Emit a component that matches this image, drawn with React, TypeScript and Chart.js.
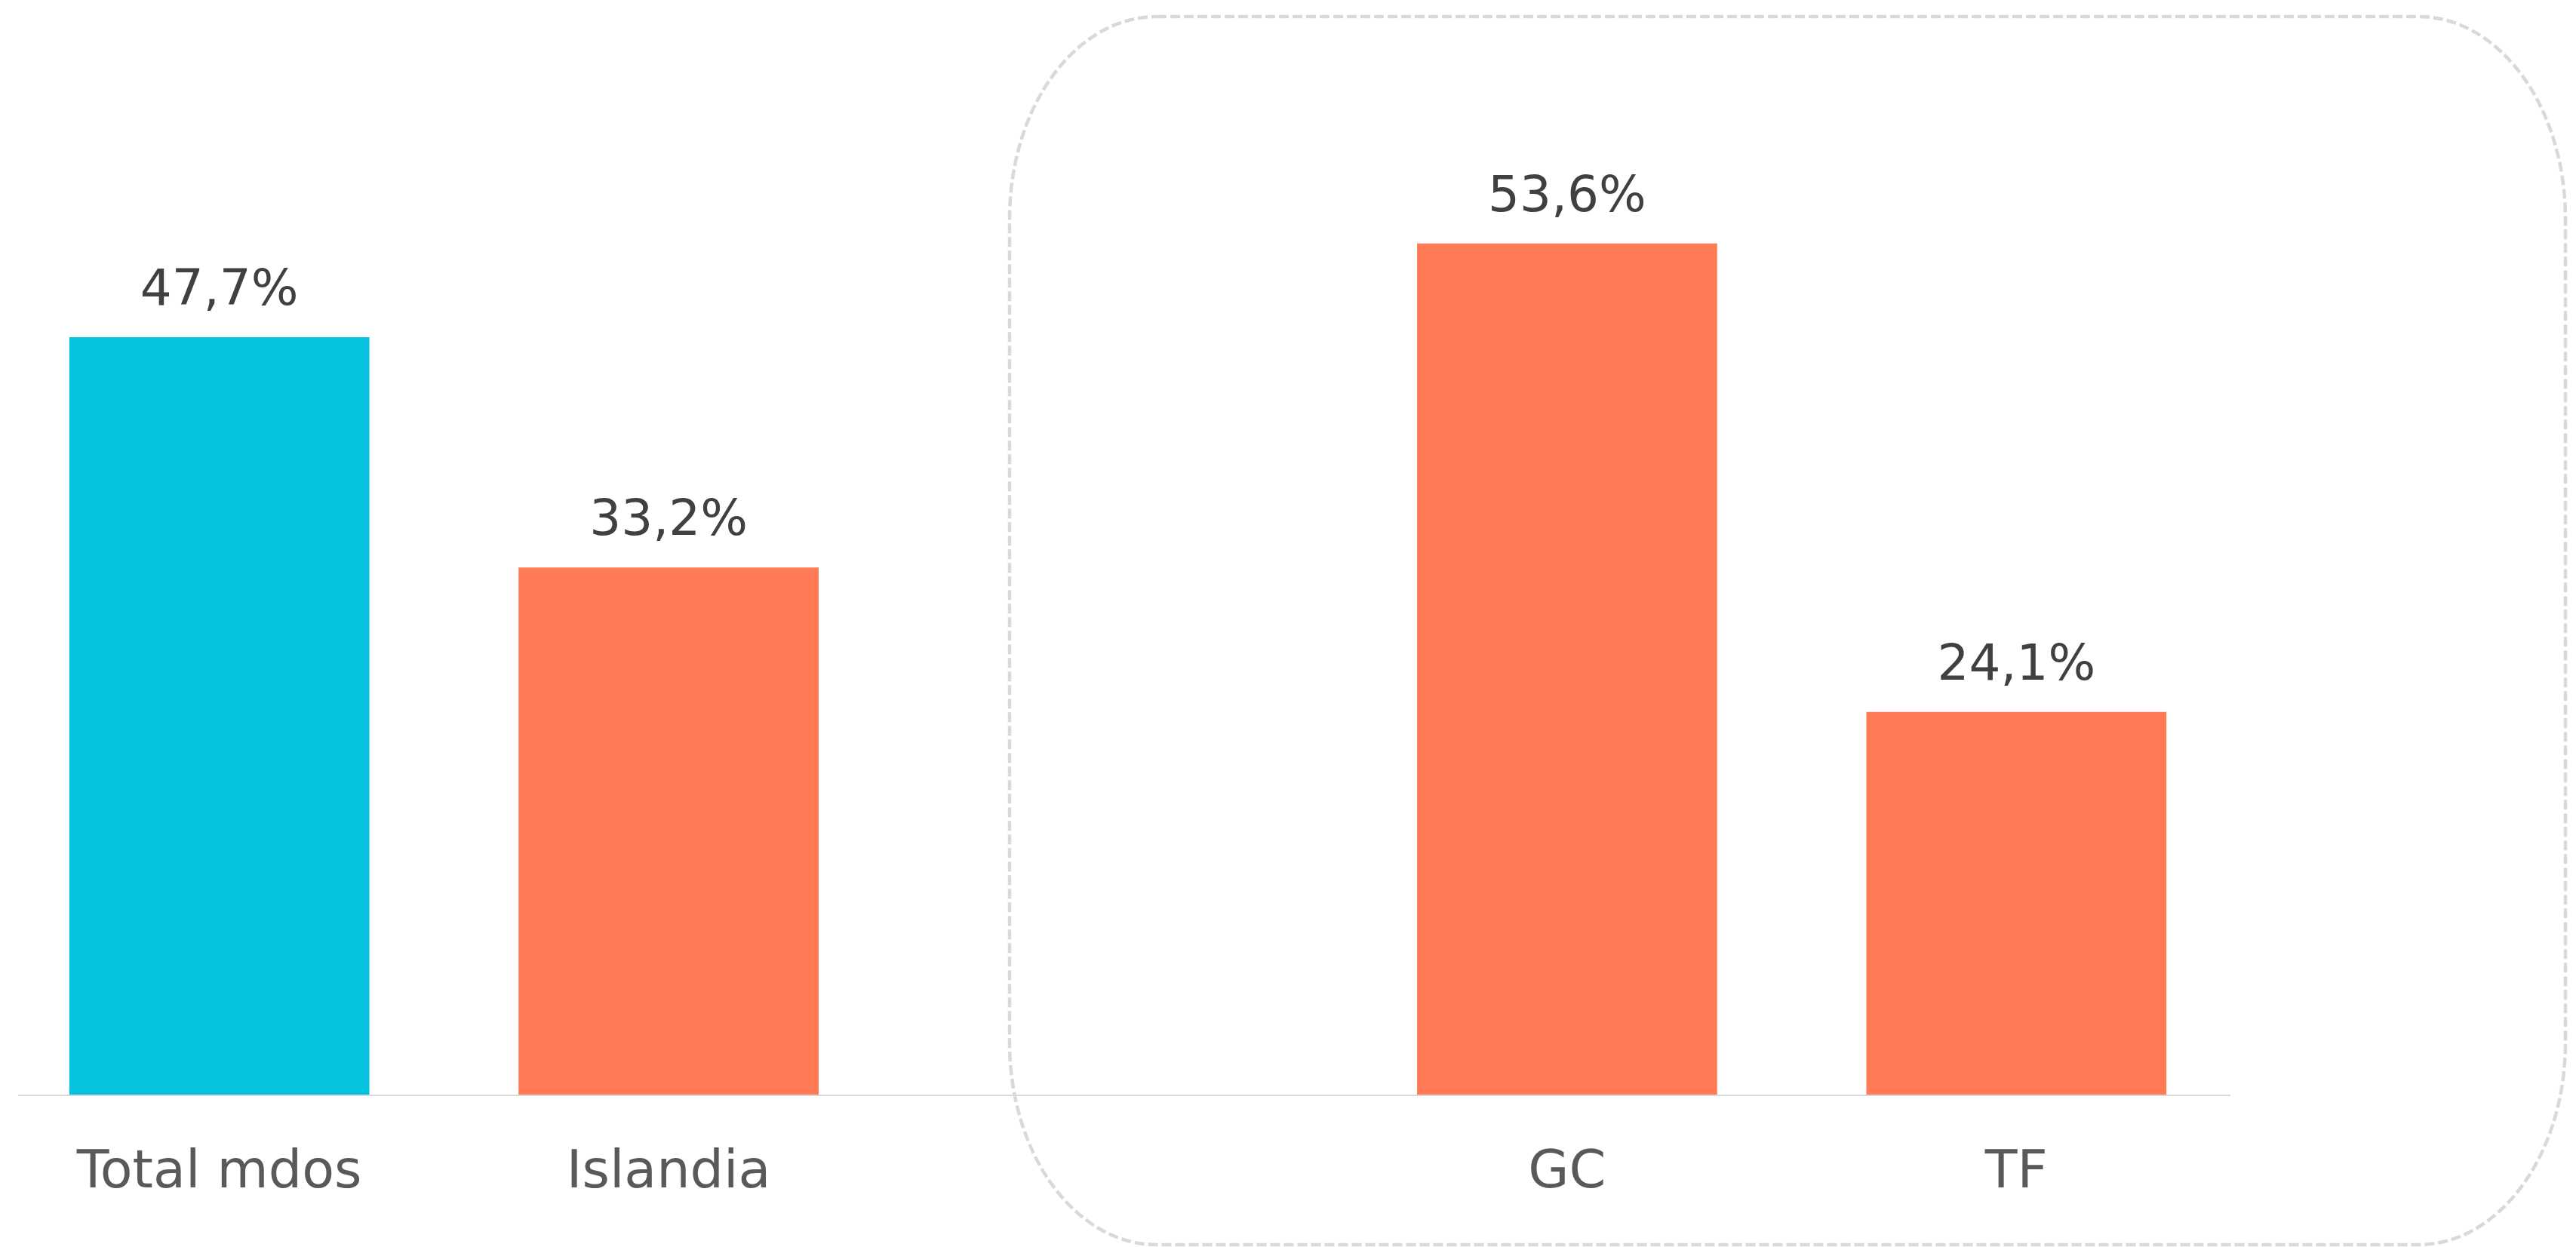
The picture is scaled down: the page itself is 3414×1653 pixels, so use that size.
import React, { useEffect, useRef } from "react";
import { Chart, registerables } from "chart.js";

Chart.register(...registerables);

const categories = ["Total mdos", "Islandia", "", "GC", "TF"];
const values = [47.7, 33.2, null, 53.6, 24.1];
const valueLabels = ["47,7%", "33,2%", "", "53,6%", "24,1%"];
const barColors = ["#06C3DD", "#FF7A55", "#FF7A55", "#FF7A55", "#FF7A55"];

const W = 3414;
const H = 1653;
const SHIFT = -7;

const valueLabelPlugin = {
  id: "valueLabels",
  afterDatasetsDraw(chart: any) {
    const ctx = chart.ctx;
    const meta = chart.getDatasetMeta(0);
    ctx.save();
    ctx.font = "66px 'DejaVu Sans'";
    ctx.fillStyle = "#404040";
    ctx.textAlign = "center";
    ctx.textBaseline = "alphabetic";
    meta.data.forEach((bar: any, i: number) => {
      if (values[i] == null) return;
      ctx.fillText(valueLabels[i], bar.x, bar.y - 43);
    });
    ctx.restore();
  },
};

const decorPlugin = {
  id: "decor",
  beforeDatasetsDraw(chart: any) {
    const ctx = chart.ctx;
    const a = chart.chartArea;
    ctx.save();
    ctx.strokeStyle = "#d9d9d9";
    ctx.lineWidth = 2;
    ctx.beginPath();
    ctx.moveTo(a.left + 31, a.bottom + 1);
    ctx.lineTo(a.right - 14, a.bottom + 1);
    ctx.stroke();
    ctx.restore();
  },
  afterDraw(chart: any) {
    const ctx = chart.ctx;
    const l = 1338 - SHIFT, t = 22, r = 3400 - SHIFT, b = 1650;
    const rx = 195, ry = 268;
    ctx.save();
    ctx.strokeStyle = "#d9d9d9";
    ctx.lineWidth = 4.5;
    ctx.setLineDash([13, 5]);
    ctx.beginPath();
    ctx.moveTo(l + rx, t);
    ctx.lineTo(r - rx, t);
    ctx.ellipse(r - rx, t + ry, rx, ry, 0, -Math.PI / 2, 0);
    ctx.lineTo(r, b - ry);
    ctx.ellipse(r - rx, b - ry, rx, ry, 0, 0, Math.PI / 2);
    ctx.lineTo(l + rx, b);
    ctx.ellipse(l + rx, b - ry, rx, ry, 0, Math.PI / 2, Math.PI);
    ctx.lineTo(l, t + ry);
    ctx.ellipse(l + rx, t + ry, rx, ry, 0, Math.PI, Math.PI * 1.5);
    ctx.closePath();
    ctx.stroke();
    ctx.restore();
  },
};

export default function App() {
  const ref = useRef<HTMLCanvasElement | null>(null);
  useEffect(() => {
    if (!ref.current) return;
    const chart = new Chart(ref.current, {
      type: "bar",
      data: {
        labels: categories,
        datasets: [
          {
            data: values as any,
            backgroundColor: barColors,
            borderWidth: 0,
            categoryPercentage: 1,
            barPercentage: 0.668,
          },
        ],
      },
      options: {
        responsive: false,
        animation: false,
        devicePixelRatio: 1,
        layout: { padding: { top: 188, left: 0, right: 444 + SHIFT, bottom: 0 } },
        plugins: {
          legend: { display: false },
          tooltip: { enabled: false },
          title: { display: false },
        },
        scales: {
          x: {
            grid: { display: false, drawTicks: false },
            border: { display: false },
            ticks: {
              color: "#595959",
              font: { family: "'DejaVu Sans'", size: 70 },
              padding: 63,
              maxRotation: 0,
              autoSkip: false,
            },
            afterFit: (scale: any) => {
              scale.height = 202;
            },
          },
          y: {
            display: false,
            min: 0,
            max: 60,
          },
        },
      },
      plugins: [decorPlugin, valueLabelPlugin],
    });
    return () => chart.destroy();
  }, []);
  return (
    <div style={{ position: "fixed", left: 0, top: 0, width: W, height: H, background: "#fff", overflow: "hidden" }}>
      <canvas
        ref={ref}
        width={W}
        height={H}
        style={{ width: W, height: H, display: "block", position: "absolute", left: SHIFT, top: 0 }}
      />
    </div>
  );
}
